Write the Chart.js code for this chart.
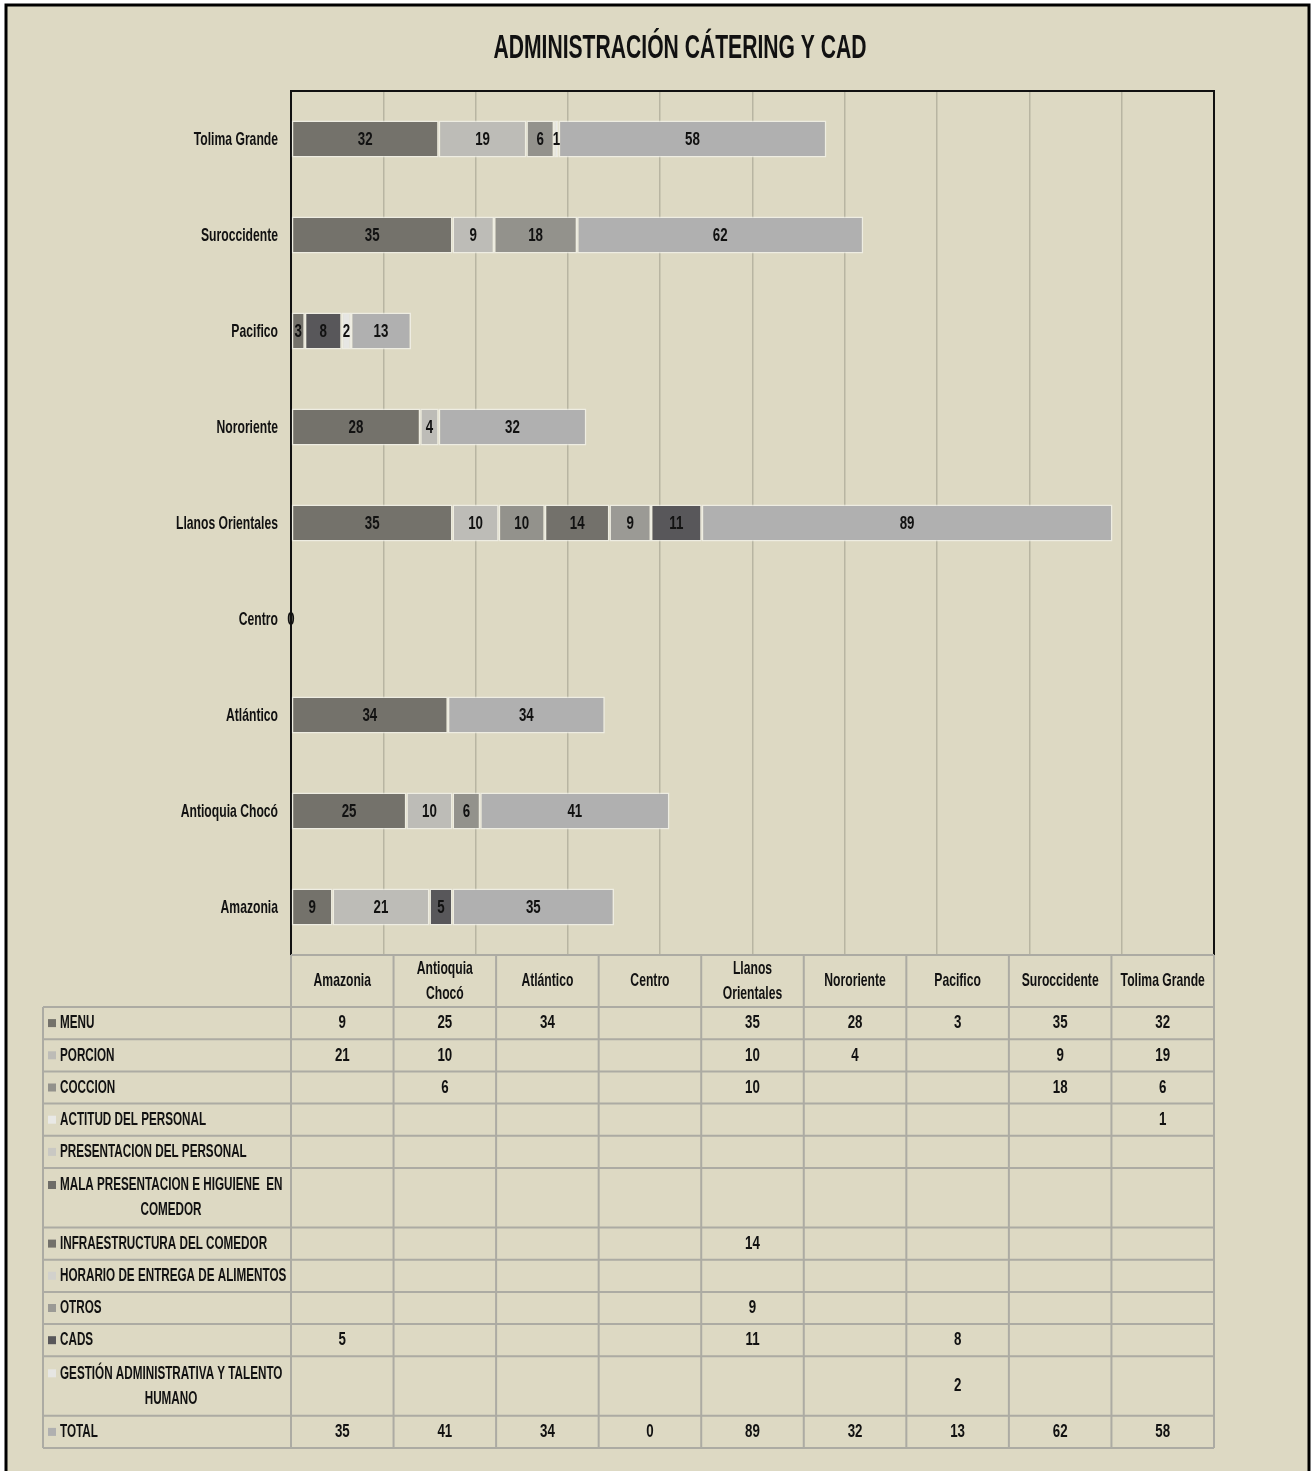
<!DOCTYPE html>
<html lang="es">
<head>
<meta charset="UTF-8">
<title>Administración Cátering y CAD</title>
<script src="https://cdn.jsdelivr.net/npm/chart.js"></script>
<style>
  body { margin: 0; background: #fff; }
  .wrap { width: 1316px; height: 1471px; }
</style>
</head>
<body>
<div class="wrap"><canvas id="c"></canvas></div>
<script>
// categorias en el orden de la tabla (izquierda a derecha)
const categories = ['Amazonia', 'Antioquia Chocó', 'Atlántico', 'Centro', 'Llanos Orientales', 'Nororiente', 'Pacifico', 'Suroccidente', 'Tolima Grande'];
const headerLabels = [['Amazonia'], ['Antioquia', 'Chocó'], ['Atlántico'], ['Centro'], ['Llanos', 'Orientales'], ['Nororiente'], ['Pacifico'], ['Suroccidente'], ['Tolima Grande']];

const menu         = [9, 25, 34, null, 35, 28, 3, 35, 32];
const porcion      = [21, 10, null, null, 10, 4, null, 9, 19];
const coccion      = [null, 6, null, null, 10, null, null, 18, 6];
const actitud      = [null, null, null, null, null, null, null, null, 1];
const presentacion = [null, null, null, null, null, null, null, null, null];
const malaPresent  = [null, null, null, null, null, null, null, null, null];
const infraestr    = [null, null, null, null, 14, null, null, null, null];
const horario      = [null, null, null, null, null, null, null, null, null];
const otros        = [null, null, null, null, 9, null, null, null, null];
const cads         = [5, null, null, null, 11, null, 8, null, null];
const gestion      = [null, null, null, null, null, null, 2, null, null];
const total        = [35, 41, 34, 0, 89, 32, 13, 62, 58];

const seriesNames = [
  ['MENU'], ['PORCION'], ['COCCION'], ['ACTITUD DEL PERSONAL'], ['PRESENTACION DEL PERSONAL'],
  ['MALA PRESENTACION E HIGUIENE  EN', 'COMEDOR'], ['INFRAESTRUCTURA DEL COMEDOR'],
  ['HORARIO DE ENTREGA DE ALIMENTOS'], ['OTROS'], ['CADS'],
  ['GESTIÓN ADMINISTRATIVA Y TALENTO', 'HUMANO'], ['TOTAL']
];
const seriesData = [menu, porcion, coccion, actitud, presentacion, malaPresent, infraestr, horario, otros, cads, gestion, total];
const colores = ['#74726b', '#bdbcb7', '#93928c', '#e9e9e6', '#c9c8c3', '#6e6d68', '#73716b', '#d2d1cc', '#9b9a95', '#58575a', '#e6e6e3', '#b0b0b0'];

const FONT = '"Liberation Sans", Arial, sans-serif';
const SX = 0.64; // la fuente original es muy estrecha
const BG = '#ddd9c3';

// texto comprimido horizontalmente
function txt(ctx, s, x, y, align, size, sx) {
  ctx.save();
  ctx.font = 'bold ' + size + 'px ' + FONT;
  ctx.fillStyle = '#111';
  ctx.textAlign = align;
  ctx.textBaseline = 'middle';
  ctx.translate(x, y);
  ctx.scale(sx || SX, 1);
  ctx.fillText(s, 0, 0);
  ctx.restore();
}

// marco, titulo, etiquetas y tabla de datos
const extras = {
  id: 'extras',
  beforeDraw(chart) {
    const ctx = chart.ctx;
    ctx.save();
    ctx.fillStyle = '#fff';
    ctx.fillRect(0, 0, chart.width, chart.height);
    ctx.fillStyle = BG;
    ctx.fillRect(6, 5, 1303, 1470);
    ctx.strokeStyle = '#000';
    ctx.lineWidth = 3;
    ctx.strokeRect(6, 5, 1303, 1475);
    ctx.restore();
    txt(ctx, 'ADMINISTRACIÓN CÁTERING Y CAD', 680, 49, 'center', 33);
  },
  afterDatasetsDraw(chart) {
    const ctx = chart.ctx;
    chart.data.datasets.forEach((ds, i) => {
      const meta = chart.getDatasetMeta(i);
      meta.data.forEach((el, j) => {
        const v = ds.data[j];
        if (v === null || v === undefined) return;
        txt(ctx, String(v), (el.x + el.base) / 2, el.y + 1, 'center', 19, 0.7);
      });
    });
  },
  afterDraw(chart) {
    const ctx = chart.ctx;
    const a = chart.chartArea;
    const yScale = chart.scales.y;
    // etiquetas de categoria
    categories.forEach((c, i) => {
      txt(ctx, c, a.left - 13, yScale.getPixelForValue(i) + 1, 'right', 19);
    });
    ctx.save();
    // borde del area de trazado
    ctx.strokeStyle = '#111';
    ctx.lineWidth = 2;
    ctx.beginPath();
    ctx.moveTo(a.left, a.top); ctx.lineTo(a.right, a.top); ctx.lineTo(a.right, a.bottom);
    ctx.stroke();

    // tabla
    const n = categories.length;
    const colW = (a.right - a.left) / n;
    const tLeft = 43;
    const headTop = a.bottom, headBot = a.bottom + 52;
    const rowH = seriesNames.map(s => s.length > 1 ? 59.5 : 32.2);
    const rowTops = [headBot];
    rowH.forEach(h => rowTops.push(rowTops[rowTops.length - 1] + h));
    const tBot = rowTops[rowTops.length - 1];

    ctx.strokeStyle = '#acaba3';
    ctx.lineWidth = 2;
    ctx.beginPath();
    ctx.moveTo(a.left, headTop); ctx.lineTo(a.right, headTop);
    rowTops.forEach(y => { ctx.moveTo(tLeft, y); ctx.lineTo(a.right, y); });
    ctx.moveTo(tLeft, headBot); ctx.lineTo(tLeft, tBot);
    for (let k = 0; k <= n; k++) {
      const x = a.left + k * colW;
      ctx.moveTo(x, headTop); ctx.lineTo(x, tBot);
    }
    ctx.stroke();
    ctx.restore();

    headerLabels.forEach((lines, k) => {
      const cx = a.left + (k + 0.5) * colW;
      const cy = (headTop + headBot) / 2;
      if (lines.length === 1) txt(ctx, lines[0], cx, cy, 'center', 19);
      else { txt(ctx, lines[0], cx, cy - 12.5, 'center', 19); txt(ctx, lines[1], cx, cy + 12.5, 'center', 19); }
    });

    seriesNames.forEach((lines, r) => {
      const top = rowTops[r], bot = rowTops[r + 1];
      const cy = (top + bot) / 2;
      const firstY = lines.length > 1 ? top + 17 : cy;
      ctx.fillStyle = colores[r];
      ctx.fillRect(48, firstY - 4, 8, 8);
      txt(ctx, lines[0], 60, firstY, 'left', 19, 0.615);
      if (lines.length > 1) txt(ctx, lines[1], (tLeft + a.left) / 2 + 4, top + 42, 'center', 19, 0.615);
      seriesData[r].forEach((v, k) => {
        if (v === null) return;
        txt(ctx, String(v), a.left + (k + 0.5) * colW, cy, 'center', 19, 0.7);
      });
    });
  }
};

const ctx = document.getElementById('c').getContext('2d');
new Chart(ctx, {
  type: 'bar',
  data: {
    labels: categories,
    datasets: seriesNames.map((s, i) => ({
      label: s.join(' '),
      data: seriesData[i],
      backgroundColor: colores[i],
      borderColor: 'rgba(245,245,240,0.7)',
      borderWidth: 1.5,
      borderSkipped: false,
      barPercentage: 1 / 2.6,
      categoryPercentage: 1
    }))
  },
  options: {
    indexAxis: 'y',
    responsive: true,
    maintainAspectRatio: false,
    animation: false,
    layout: { padding: { top: 91, right: 102, left: 0, bottom: 0 } },
    plugins: { legend: { display: false }, title: { display: false }, tooltip: { enabled: false } },
    scales: {
      x: {
        stacked: true,
        min: 0, max: 200,
        ticks: { display: false, stepSize: 20 },
        grid: { color: '#b8b5a2', lineWidth: 1.5, drawTicks: false },
        border: { display: false },
        afterFit(scale) { scale.height = 1471 - 955; }
      },
      y: {
        stacked: true,
        reverse: true,
        grid: { display: false },
        border: { display: true, color: '#111', width: 2 },
        ticks: { display: false },
        afterFit(scale) { scale.width = 291; }
      }
    }
  },
  plugins: [extras]
});
</script>
</body>
</html>
